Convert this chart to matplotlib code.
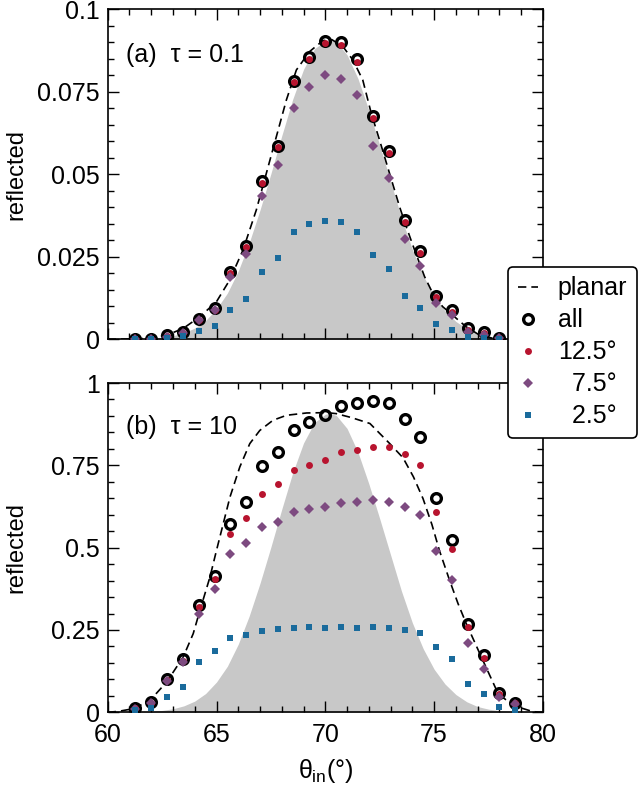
import matplotlib
matplotlib.use("Agg")
import matplotlib.pyplot as plt
from matplotlib.ticker import FixedLocator, MultipleLocator
from matplotlib.lines import Line2D

plt.rcParams["font.family"] = ["Liberation Sans", "DejaVu Sans"]
plt.rcParams["mathtext.fontset"] = "custom"
plt.rcParams["mathtext.rm"] = "Liberation Sans"
plt.rcParams["mathtext.it"] = "Liberation Sans"

# ── Data ──────────────────────────────────────────────────────────────────────

theta = [61.27, 62.00, 62.73, 63.45, 64.18, 64.91, 65.64, 66.36, 67.09, 67.82,
         68.55, 69.27, 70.00, 70.73, 71.45, 72.18, 72.91, 73.64, 74.36, 75.09,
         75.82, 76.55, 77.27, 78.00, 78.73]

# (a) tau = 0.1
a_all = [0.0000, 0.0000, 0.0013, 0.0023, 0.0061, 0.0094, 0.0205, 0.0283, 0.0479, 0.0586,
         0.0784, 0.0855, 0.0903, 0.0900, 0.0848, 0.0677, 0.0572, 0.0360, 0.0269, 0.0132,
         0.0089, 0.0033, 0.0021, 0.0005, 0.0002]
a_125 = [0.0000, 0.0000, 0.0010, 0.0020, 0.0057, 0.0089, 0.0200, 0.0279, 0.0475, 0.0582,
         0.0780, 0.0848, 0.0897, 0.0892, 0.0840, 0.0670, 0.0564, 0.0354, 0.0261, 0.0127,
         0.0084, 0.0028, 0.0018, 0.0003, 0.0002]
a_75 = [0.0000, 0.0000, 0.0008, 0.0018, 0.0057, 0.0089, 0.0190, 0.0259, 0.0434, 0.0529,
        0.0702, 0.0763, 0.0800, 0.0789, 0.0739, 0.0586, 0.0488, 0.0304, 0.0223, 0.0109,
        0.0074, 0.0023, 0.0013, 0.0003, 0.0001]
a_25 = [0.0000, 0.0000, 0.0005, 0.0010, 0.0026, 0.0041, 0.0089, 0.0122, 0.0204, 0.0247,
        0.0324, 0.0349, 0.0359, 0.0354, 0.0325, 0.0256, 0.0212, 0.0130, 0.0096, 0.0045,
        0.0028, 0.0008, 0.0005, 0.0002, 0.0001]

a_planar_x = [60.0, 61.0, 61.94, 62.7, 63.47, 64.23, 65.0, 65.61, 66.22, 66.83, 67.29,
              67.75, 68.21, 68.67, 69.28, 69.89, 70.3, 70.81, 71.27, 71.72, 72.11,
              72.49, 72.95, 73.41, 73.72, 74.1, 74.56, 74.94, 75.39, 76.01, 76.47,
              77.08, 77.69, 78.5, 80.0]
a_planar_y = [0.0, 0.0001, 0.0003, 0.0012, 0.0033, 0.0068, 0.0114, 0.0180, 0.0271, 0.0392,
              0.0503, 0.0614, 0.0725, 0.0816, 0.0872, 0.0905, 0.0908, 0.0887, 0.0846,
              0.0786, 0.0685, 0.0604, 0.0503, 0.0402, 0.0341, 0.0271, 0.0190, 0.0139,
              0.0099, 0.0064, 0.0038, 0.0013, 0.0003, 0.0, 0.0]

# (b) tau = 10
b_all = [0.014, 0.030, 0.100, 0.161, 0.326, 0.415, 0.573, 0.639, 0.747, 0.790,
         0.856, 0.881, 0.904, 0.931, 0.940, 0.944, 0.939, 0.890, 0.836, 0.652,
         0.523, 0.268, 0.173, 0.058, 0.029]
b_125 = [0.012, 0.029, 0.098, 0.157, 0.321, 0.404, 0.540, 0.590, 0.664, 0.692,
         0.735, 0.751, 0.765, 0.789, 0.796, 0.806, 0.805, 0.784, 0.751, 0.608,
         0.495, 0.260, 0.164, 0.055, 0.027]
b_75 = [0.010, 0.029, 0.096, 0.154, 0.300, 0.373, 0.481, 0.515, 0.563, 0.579,
        0.607, 0.616, 0.624, 0.637, 0.639, 0.644, 0.640, 0.624, 0.599, 0.491,
        0.402, 0.211, 0.133, 0.045, 0.025]
b_25 = [0.007, 0.012, 0.048, 0.076, 0.152, 0.185, 0.227, 0.236, 0.248, 0.253,
        0.256, 0.258, 0.257, 0.259, 0.257, 0.258, 0.256, 0.249, 0.241, 0.199,
        0.163, 0.086, 0.055, 0.015, 0.007]

b_planar_x = [60.0, 60.5, 61.18, 61.94, 62.71, 63.47, 63.93, 64.24, 64.70, 65.0, 65.31,
              65.62, 66.07, 66.53, 66.99, 67.6, 68.22, 69.14, 70.05, 70.5, 71.2, 72.05,
              72.96, 73.57, 74.05, 74.49, 74.9, 75.25, 75.71, 76.1, 76.48, 77.17, 77.94,
              78.62, 79.54, 80.0]
b_planar_y = [0.0, 0.003, 0.011, 0.036, 0.092, 0.168, 0.239, 0.310, 0.411, 0.492, 0.573,
              0.654, 0.745, 0.816, 0.856, 0.887, 0.902, 0.909, 0.910, 0.907, 0.895, 0.877,
              0.816, 0.773, 0.715, 0.649, 0.570, 0.490, 0.401, 0.330, 0.269, 0.168, 0.057,
              0.021, 0.002, 0.0]

# incident-beam profile (grey area), same grid for both panels
beam_x = [60.0, 60.5, 61.0, 61.5, 62.0, 62.5, 63.0, 63.5, 64.0, 64.5, 65.0, 65.5,
          66.0, 66.5, 67.0, 67.5, 68.0, 68.5, 69.0, 69.5, 70.0, 70.2, 70.5, 71.0,
          71.5, 72.0, 72.5, 73.0, 73.5, 74.0, 74.5, 75.0, 75.5, 76.0, 76.5, 77.0,
          77.5, 78.0, 78.5, 79.0, 79.5, 80.0]
b_beam = [0.0001, 0.0003, 0.0007, 0.0014, 0.0029, 0.0057, 0.0108, 0.0196, 0.034, 0.057,
          0.092, 0.140, 0.207, 0.292, 0.392, 0.502, 0.617, 0.727, 0.818, 0.880, 0.905,
          0.907, 0.902, 0.862, 0.790, 0.694, 0.588, 0.478, 0.368, 0.272, 0.193, 0.131,
          0.086, 0.054, 0.032, 0.0175, 0.0096, 0.005, 0.0025, 0.0012, 0.0006, 0.0002]
a_beam = [0.00001, 0.00003, 0.00007, 0.00014, 0.00029, 0.00057, 0.00108, 0.00196, 0.0034,
          0.0057, 0.0092, 0.0140, 0.0207, 0.0292, 0.0392, 0.0502, 0.0617, 0.0727, 0.0818,
          0.0880, 0.0905, 0.0907, 0.0902, 0.0862, 0.0790, 0.0694, 0.0588, 0.0478, 0.0368,
          0.0272, 0.0193, 0.0131, 0.0086, 0.0054, 0.0032, 0.00175, 0.00096, 0.0005,
          0.00025, 0.00012, 0.00006, 0.00002]

labels = ["planar", "all", "12.5°", "  7.5°", "  2.5°"]
C_RED = "#b8142f"
C_PUR = "#7d4a80"
C_BLU = "#1a6b9c"
FS = 18

# marker styles shared by plot and legend
ST_ALL = dict(ls="none", marker="o", ms=7, mfc="none", mec="black", mew=2.4)
ST_125 = dict(ls="none", marker="o", ms=5, color=C_RED, mew=0)
ST_75 = dict(ls="none", marker="D", ms=4.6, color=C_PUR, mew=0)
ST_25 = dict(ls="none", marker="s", ms=4.6, color=C_BLU, mew=0)
ST_PLANAR = dict(color="black", lw=1.2, ls=(0, (5, 3)))


def style_axes(ax, ymax, ymajor, yminor, yticklabels):
    ax.set_xlim(60, 80)
    ax.set_ylim(0, ymax)
    ax.xaxis.set_major_locator(MultipleLocator(5))
    ax.xaxis.set_minor_locator(MultipleLocator(1))
    ax.yaxis.set_major_locator(FixedLocator(ymajor))
    ax.yaxis.set_minor_locator(MultipleLocator(yminor))
    ax.set_yticklabels(yticklabels)
    ax.tick_params(which="both", direction="in", top=True, right=True,
                   width=1.0, labelsize=FS)
    ax.tick_params(which="major", length=8, pad=5.5)
    ax.tick_params(which="minor", length=4.3)
    for s in ax.spines.values():
        s.set_linewidth(1.2)
    ax.set_ylabel("reflected", fontsize=17)
    ax.yaxis.set_label_coords(-0.184, 0.5)


def draw_panel(ax, beam, px, py, s_all, s125, s75, s25):
    ax.fill_between(beam_x, 0, beam, color="#c8c8c8", lw=0, zorder=1)
    ax.plot(px, py, zorder=2, **ST_PLANAR)
    ax.plot(theta, s_all, zorder=3, **ST_ALL)
    ax.plot(theta, s125, zorder=4, **ST_125)
    ax.plot(theta, s75, zorder=5, **ST_75)
    ax.plot(theta, s25, zorder=6, **ST_25)


fig = plt.figure(figsize=(6.4, 7.85), dpi=100)
ax1 = fig.add_axes([0.1683, 0.5678, 0.680, 0.4204])
ax2 = fig.add_axes([0.1683, 0.0926, 0.680, 0.4195])

draw_panel(ax1, a_beam, a_planar_x, a_planar_y, a_all, a_125, a_75, a_25)
draw_panel(ax2, b_beam, b_planar_x, b_planar_y, b_all, b_125, b_75, b_25)

style_axes(ax1, 0.1, [0, 0.025, 0.05, 0.075, 0.1], 0.005,
           ["0", "0.025", "0.05", "0.075", "0.1"])
style_axes(ax2, 1.0, [0, 0.25, 0.5, 0.75, 1.0], 0.05,
           ["0", "0.25", "0.5", "0.75", "1"])
ax1.tick_params(labelbottom=False)
ax2.tick_params(axis="x", pad=8)

ax1.text(0.042, 0.862, "(a)  τ = 0.1", transform=ax1.transAxes,
         fontsize=FS, va="center", ha="left")
ax2.text(0.042, 0.866, "(b)  τ = 10", transform=ax2.transAxes,
         fontsize=FS, va="center", ha="left")

ax2.set_xlabel(r"$\theta_{in}$(°)", fontsize=FS)
ax2.xaxis.set_label_coords(0.5, -0.136)

handles = [Line2D([], [], **ST_PLANAR), Line2D([], [], **ST_ALL),
           Line2D([], [], **ST_125), Line2D([], [], **ST_75), Line2D([], [], **ST_25)]
leg = fig.legend(handles, labels, loc="upper left", bbox_to_anchor=(0.794, 0.660),
                 fontsize=FS, frameon=True, fancybox=True, framealpha=1,
                 edgecolor="black", handlelength=0.8, handletextpad=0.8,
                 labelspacing=0.32, borderpad=0.38, borderaxespad=0)
leg.get_frame().set_linewidth(1.2)
leg.set_zorder(10)

fig.savefig("out.png", dpi=100)
